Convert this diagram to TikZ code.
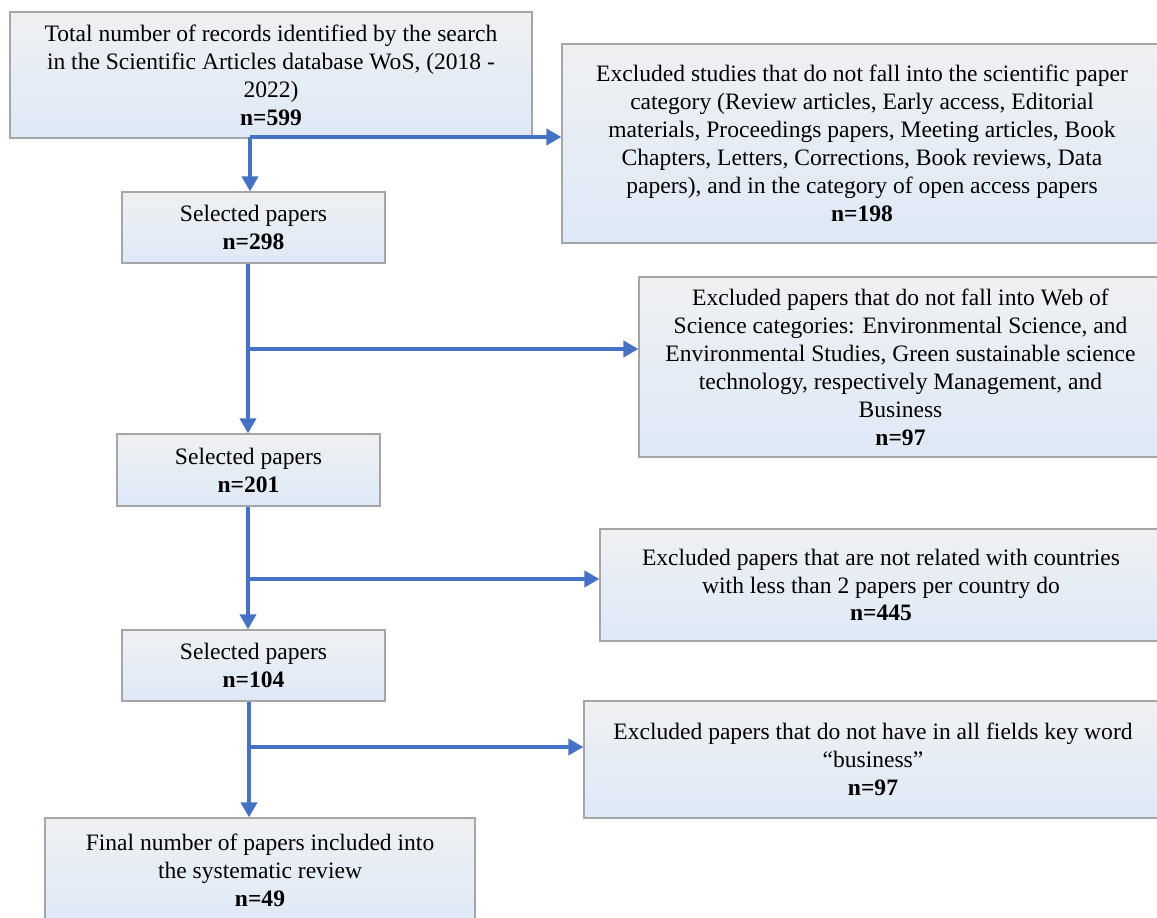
\documentclass[tikz,border=0pt]{standalone}
\usepackage{fontspec}
\setmainfont{Liberation Serif}
\usetikzlibrary{calc}
\usetikzlibrary{arrows.meta}
\usetikzlibrary{positioning}
\definecolor{frost}{RGB}{239, 240, 242}
\definecolor{powder}{RGB}{218, 227, 243}
\definecolor{pale}{RGB}{222, 233, 247}
\definecolor{ash}{RGB}{166, 166, 166}
\definecolor{royal}{RGB}{68, 114, 196}
\tikzset{
    box/.style={draw=ash, line width=0.025cm, top color=frost, middle color=powder, bottom color=pale,
                align=center, inner sep=0pt, font=\fontsize{13.4}{15.9}\selectfont},
    flow/.style={royal, line width=0.09cm, -{Triangle[width=0.32cm, length=0.3cm]}}
}
\begin{document}
\begin{tikzpicture}[x=0.02cm, y=-0.02cm]
            \useasboundingbox (0, 0) rectangle (1157, 918);
            \clip (0, 0) rectangle (1157, 918);
            % left column
            \node[box, minimum width=10.44cm, minimum height=2.52cm] (records) at (271, 75)
                 {Total number of records identified by the search\\ in the Scientific Articles database WoS, (2018 -\\ 2022)\\ \textbf{n=599}};
            \node[box, minimum width=5.26cm, minimum height=1.42cm]  (sel1)    at (253.5, 227.5) {Selected papers\\ \textbf{n=298}};
            \node[box, minimum width=5.26cm, minimum height=1.44cm]  (sel2)    at (248.5, 470)   {Selected papers\\ \textbf{n=201}};
            \node[box, minimum width=5.26cm, minimum height=1.42cm]  (sel3)    at (253.5, 665.5) {Selected papers\\ \textbf{n=104}};
            \node[box, minimum width=8.60cm, minimum height=2.08cm]  (final)   at (260, 870)
                 {Final number of papers included into\\ the systematic review\\ \textbf{n=49}};
            % right column
            \node[box, minimum width=12.00cm, minimum height=3.98cm] (exc1) at (862, 143.5)
                 {Excluded studies that do not fall into the scientific paper\\ category (Review articles, Early access, Editorial\\
                  materials, Proceedings papers, Meeting articles, Book\\ Chapters, Letters, Corrections, Book reviews, Data\\
                  papers), and in the category of open access papers\\ \textbf{n=198}};
            \node[box, minimum width=10.46cm, minimum height=3.60cm] (exc2) at (900.5, 367)
                 {Excluded papers that do not fall into Web of\\ Science categories: Environmental Science, and\\
                  Environmental Studies, Green sustainable science\\ technology, respectively Management, and\\ Business\\ \textbf{n=97}};
            \node[box, minimum width=11.24cm, minimum height=2.24cm] (exc3) at (881, 585)
                 {Excluded papers that are not related with countries\\ with less than 2 papers per country do\\ \textbf{n=445}};
            \node[box, minimum width=11.56cm, minimum height=2.34cm] (exc4) at (873, 759.5)
                 {Excluded papers that do not have in all fields key word\\ “business”\\ \textbf{n=97}};
            % arrows
            \coordinate (fork1) at (250, 137);
            \coordinate (fork2) at (248, 349);
            \coordinate (fork3) at (248, 579);
            \coordinate (fork4) at (249, 747);
            \draw[flow] (fork1)             -- (fork1 |- sel1.north);
            \draw[flow] (fork1)             -- (fork1 -| exc1.west);
            \draw[flow] (fork2 |- sel1.south) -- (fork2 |- sel2.north);
            \draw[flow] (fork2)             -- (fork2 -| exc2.west);
            \draw[flow] (fork3 |- sel2.south) -- (fork3 |- sel3.north);
            \draw[flow] (fork3)             -- (fork3 -| exc3.west);
            \draw[flow] (fork4 |- sel3.south) -- (fork4 |- final.north);
            \draw[flow] (fork4)             -- (fork4 -| exc4.west);
\end{tikzpicture}
\end{document}
